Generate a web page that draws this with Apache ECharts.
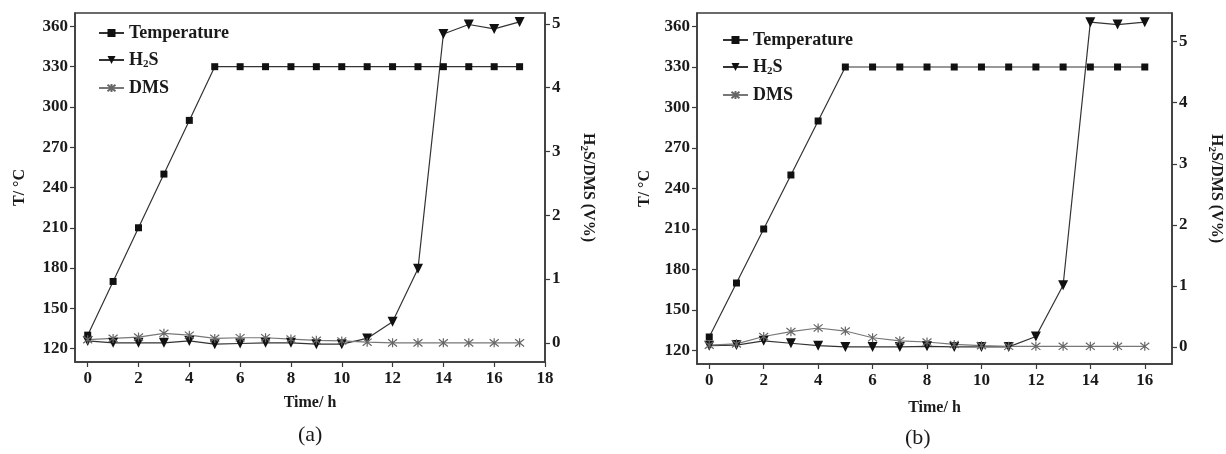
<!DOCTYPE html>
<html>
<head>
<meta charset="utf-8">
<script src="https://cdn.jsdelivr.net/npm/echarts@6/dist/echarts.min.js"></script>
<style>
  html, body { margin: 0; padding: 0; background: #fff; }
  #main { width: 1226px; height: 454px; }
</style>
</head>
<body>
<div id="main"></div>
<script>
// panel (a)
var timeA = [0, 1, 2, 3, 4, 5, 6, 7, 8, 9, 10, 11, 12, 13, 14, 15, 16, 17];
var tempA = [130, 170, 210, 250, 290, 330, 330, 330, 330, 330, 330, 330, 330, 330, 330, 330, 330, 330];
var h2sA = [0.03, 0, 0, 0, 0.03, -0.02, -0.01, 0, 0, -0.02, -0.02, 0.07, 0.33, 1.16, 4.84, 4.99, 4.92, 5.03];
var dmsA = [0.05, 0.07, 0.09, 0.15, 0.12, 0.07, 0.08, 0.08, 0.06, 0.04, 0.03, 0.01, 0, 0, 0, 0, 0, 0];

// panel (b)
var timeB = [0, 1, 2, 3, 4, 5, 6, 7, 8, 9, 10, 11, 12, 13, 14, 15, 16];
var tempB = [130, 170, 210, 250, 290, 330, 330, 330, 330, 330, 330, 330, 330, 330, 330, 330, 330];
var h2sB = [0.02, 0.03, 0.1, 0.06, 0.02, 0, 0, 0, 0.01, 0, 0, 0, 0.17, 1.01, 5.32, 5.28, 5.32];
var dmsB = [0.03, 0.05, 0.17, 0.25, 0.31, 0.26, 0.15, 0.1, 0.08, 0.04, 0.02, 0.01, 0.01, 0.01, 0.01, 0.01, 0.01];

// ticks
var tempTicks = [120, 150, 180, 210, 240, 270, 300, 330, 360];
var concTicks = [0, 1, 2, 3, 4, 5];
var timeTicksA = [0, 2, 4, 6, 8, 10, 12, 14, 16, 18];
var timeTicksB = [0, 2, 4, 6, 8, 10, 12, 14, 16];

var FONT = '"Liberation Serif", "DejaVu Serif", serif';
var INK = '#1a1a1a';
var AXIS = '#3a3a3a';
var subRich = {
    sub: { fontFamily: FONT, fontWeight: 'bold', fontSize: 11, color: INK, verticalAlign: 'bottom', padding: [9, 0, 0, 0] }
};
var asterisk = 'path://M-4,-4L4,4M-4,4L4,-4M0,-5L0,5';

function zip(xs, ys) {
    return xs.map(function (x, i) { return [x, ys[i]]; });
}

function xAxis(grid, min, max, ticks, nameGap) {
    return {
        type: 'value', gridIndex: grid, min: min, max: max,
        name: 'Time/ h', nameLocation: 'middle', nameGap: nameGap,
        nameTextStyle: { fontFamily: FONT, fontWeight: 'bold', fontSize: 16, color: INK },
        axisLine: { onZero: false, lineStyle: { color: AXIS, width: 1.5 } },
        axisTick: { customValues: ticks, length: 5, lineStyle: { color: AXIS, width: 1.2 } },
        axisLabel: { customValues: ticks, margin: 8, fontFamily: FONT, fontWeight: 'bold', fontSize: 17, color: INK },
        splitLine: { show: false }
    };
}

function tempAxis(grid, nameGap) {
    return {
        type: 'value', gridIndex: grid, position: 'left', min: 110, max: 370,
        name: 'T/ °C', nameLocation: 'middle', nameGap: nameGap,
        nameTextStyle: { fontFamily: FONT, fontWeight: 'bold', fontSize: 16, color: INK },
        axisLine: { show: true, onZero: false, lineStyle: { color: AXIS, width: 1.5 } },
        axisTick: { customValues: tempTicks, length: 5, lineStyle: { color: AXIS, width: 1.2 } },
        axisLabel: { customValues: tempTicks, margin: 7, fontFamily: FONT, fontWeight: 'bold', fontSize: 17, color: INK },
        splitLine: { show: false }
    };
}

function concAxis(grid, min, max, nameGap) {
    return {
        type: 'value', gridIndex: grid, position: 'right', min: min, max: max,
        name: 'H{sub|2}S/DMS (V%)', nameLocation: 'middle', nameGap: nameGap, nameRotate: -90,
        nameTextStyle: { fontFamily: FONT, fontWeight: 'bold', fontSize: 16, color: INK, rich: subRich },
        axisLine: { show: true, onZero: false, lineStyle: { color: AXIS, width: 1.5 } },
        axisTick: { customValues: concTicks, length: 5, lineStyle: { color: AXIS, width: 1.2 } },
        axisLabel: { customValues: concTicks, margin: 7, fontFamily: FONT, fontWeight: 'bold', fontSize: 17, color: INK },
        splitLine: { show: false }
    };
}

function seriesSet(xi, yT, yC, time, temp, h2s, dms) {
    return [
        {
            name: 'Temperature', type: 'line', xAxisIndex: xi, yAxisIndex: yT,
            data: zip(time, temp), symbol: 'rect', symbolSize: 7,
            lineStyle: { color: '#333', width: 1.2 }, itemStyle: { color: '#111' }
        },
        {
            name: 'H2S', type: 'line', xAxisIndex: xi, yAxisIndex: yC,
            data: zip(time, h2s), symbol: 'triangle', symbolRotate: 180, symbolSize: 10,
            lineStyle: { color: '#333', width: 1.2 }, itemStyle: { color: '#111' }
        },
        {
            name: 'DMS', type: 'line', xAxisIndex: xi, yAxisIndex: yC,
            data: zip(time, dms), symbol: asterisk, symbolSize: 9,
            lineStyle: { color: '#777', width: 1.2 },
            itemStyle: { color: 'transparent', borderColor: '#666', borderWidth: 1.2 }
        }
    ];
}

function legend(left, top) {
    return {
        orient: 'vertical', left: left, top: top, padding: 0,
        itemWidth: 25, itemHeight: 10, itemGap: 9,
        data: ['Temperature', 'H2S', 'DMS'],
        formatter: function (n) { return n === 'H2S' ? 'H{sub|2}S' : n; },
        textStyle: { fontFamily: FONT, fontWeight: 'bold', fontSize: 18, color: INK, rich: subRich }
    };
}

var chart = echarts.init(document.getElementById('main'));
chart.setOption({
    animation: false,
    backgroundColor: '#fff',
    grid: [
        { left: 75, top: 13, width: 470, height: 349, show: true, borderColor: AXIS, borderWidth: 1.5 },
        { left: 697, top: 13, width: 475, height: 351, show: true, borderColor: AXIS, borderWidth: 1.5 }
    ],
    legend: [legend(98, 24), legend(722, 31)],
    xAxis: [xAxis(0, -0.5, 18, timeTicksA, 33), xAxis(1, -0.45, 17, timeTicksB, 36)],
    yAxis: [tempAxis(0, 47), concAxis(0, -0.3, 5.17, 33), tempAxis(1, 44), concAxis(1, -0.28, 5.47, 34)],
    series: seriesSet(0, 0, 1, timeA, tempA, h2sA, dmsA).concat(seriesSet(1, 2, 3, timeB, tempB, h2sB, dmsB)),
    graphic: [
        { type: 'text', left: 298, top: 424, style: { text: '(a)', font: '22px ' + FONT, fill: INK } },
        { type: 'text', left: 905, top: 427, style: { text: '(b)', font: '22px ' + FONT, fill: INK } }
    ]
});
</script>
</body>
</html>
